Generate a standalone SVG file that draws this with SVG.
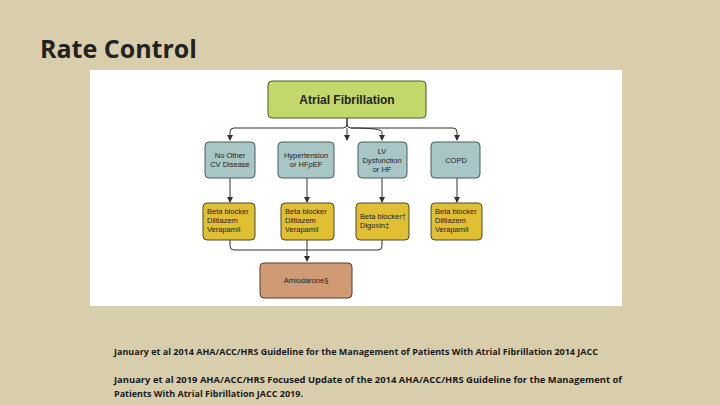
<svg xmlns="http://www.w3.org/2000/svg" width="720" height="405" viewBox="0 0 720 405">
<style>
.b{fill:#a9c6c6;stroke:#4a5a5a;stroke-width:1}
.y{fill:#e1bf34;stroke:#4a4a2a;stroke-width:1}
.t{font-family:"Liberation Sans",Arial,sans-serif;font-size:7.5px;fill:#222}
.c{stroke:#333;stroke-width:1;fill:none}
.r{font-family:"Open Sans","Liberation Sans",sans-serif;font-size:8.3px;font-weight:bold;fill:#1a1a1a}
</style>
<defs><marker id="a" markerWidth="6" markerHeight="6" refX="5" refY="3" orient="auto" markerUnits="userSpaceOnUse"><path d="M0,0 L6,3 L0,6 z" fill="#333"/></marker></defs>
<rect width="720" height="405" fill="#d8ceac"/>
<text x="40" y="58" font-family="Open Sans,Liberation Sans,sans-serif" font-size="25" font-weight="bold" fill="#222">Rate Control</text>
<rect x="90" y="70" width="532" height="236" fill="#fff"/>
<g id="connectors" class="c">
<path d="M347,118 V124 Q347,128 343,128 H234 Q230,128 230,132 V140" marker-end="url(#a)"/>
<path d="M347,118 V124 Q347,128 351,128 H453 Q457,128 457,132 V140" marker-end="url(#a)"/>
<path d="M347,128 V140" marker-end="url(#a)"/>
<path d="M351,128 Q382,128 382,132 V140" marker-end="url(#a)"/>
<path d="M230,178 V202" marker-end="url(#a)"/>
<path d="M307,178 V202" marker-end="url(#a)"/>
<path d="M382,178 V202" marker-end="url(#a)"/>
<path d="M457,178 V202" marker-end="url(#a)"/>
<path d="M230,240 V246 Q230,250 234,250 H378 Q382,250 382,246 V240"/>
<path d="M307,240 V261" marker-end="url(#a)"/>
</g>
<g id="af"><rect x="268" y="81" width="158" height="37" rx="4" fill="#c3d86a" stroke="#4a5a2a"/><text x="347" y="104" text-anchor="middle" font-family="Liberation Sans,Arial,sans-serif" font-size="12" font-weight="bold" fill="#222">Atrial Fibrillation</text></g>
<g id="n1"><rect class="b" x="205" y="142" width="50" height="36" rx="4"/><text class="t" text-anchor="middle"><tspan x="230" y="158">No Other</tspan><tspan x="230" y="167">CV Disease</tspan></text></g>
<g id="n2"><rect class="b" x="278" y="142" width="56" height="36" rx="4"/><text class="t" text-anchor="middle"><tspan x="306" y="158">Hypertension</tspan><tspan x="306" y="167">or HF<tspan font-style="italic">p</tspan>EF</tspan></text></g>
<g id="n3"><rect class="b" x="358" y="142" width="49" height="36" rx="4"/><text class="t" text-anchor="middle"><tspan x="382" y="154">LV</tspan><tspan x="382" y="163">Dysfunction</tspan><tspan x="382" y="172">or HF</tspan></text></g>
<g id="n4"><rect class="b" x="431" y="142" width="49" height="36" rx="4"/><text class="t" text-anchor="middle" x="456" y="163">COPD</text></g>
<g id="d1"><rect class="y" x="203" y="203" width="52" height="37" rx="4"/><text class="t"><tspan x="207" y="214">Beta blocker</tspan><tspan x="207" y="223">Diltiazem</tspan><tspan x="207" y="232">Verapamil</tspan></text></g>
<g id="d2"><rect class="y" x="281" y="203" width="53" height="37" rx="4"/><text class="t"><tspan x="285" y="214">Beta blocker</tspan><tspan x="285" y="223">Diltiazem</tspan><tspan x="285" y="232">Verapamil</tspan></text></g>
<g id="d3"><rect class="y" x="356" y="203" width="53" height="37" rx="4"/><text class="t"><tspan x="360" y="219">Beta blocker†</tspan><tspan x="360" y="228">Digoxin‡</tspan></text></g>
<g id="d4"><rect class="y" x="431" y="203" width="51" height="37" rx="4"/><text class="t"><tspan x="435" y="214">Beta blocker</tspan><tspan x="435" y="223">Diltiazem</tspan><tspan x="435" y="232">Verapamil</tspan></text></g>
<g id="am"><rect x="260" y="263" width="92" height="35" rx="4" fill="#cf9a74" stroke="#5a3a2a"/><text class="t" x="306" y="283" text-anchor="middle">Amiodarone§</text></g>
<text class="r" x="114" y="355" textLength="484" lengthAdjust="spacingAndGlyphs">January et al 2014 AHA/ACC/HRS Guideline  for the Management of Patients With Atrial Fibrillation 2014 JACC</text>
<text class="r" x="114" y="383" textLength="508" lengthAdjust="spacingAndGlyphs">January et al 2019 AHA/ACC/HRS Focused Update of the 2014 AHA/ACC/HRS Guideline for the Management of</text>
<text class="r" x="114" y="397" textLength="189" lengthAdjust="spacingAndGlyphs">Patients With Atrial Fibrillation JACC 2019.</text>
</svg>
